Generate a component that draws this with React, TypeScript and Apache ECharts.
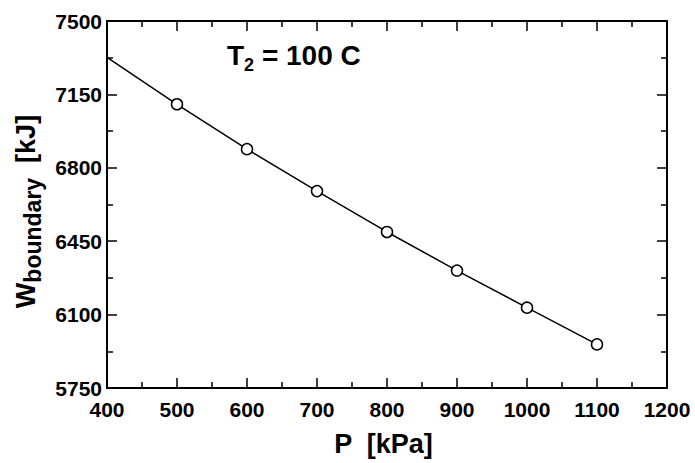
import React, { useEffect, useRef } from "react";
import * as echarts from "echarts";

const pressure = [400, 500, 600, 700, 800, 900, 1000, 1100];
const work = [7327, 7103, 6889, 6689, 6494, 6310, 6133, 5958];
const markerStart = 1; // markers drawn from 500 kPa onward

const xMin = 400;
const xMax = 1200;
const xStep = 100;
const yMin = 5750;
const yMax = 7500;
const yStep = 350;

const FONT = "Liberation Sans, Arial, Helvetica, sans-serif";

export default function App() {
  const ref = useRef<HTMLDivElement>(null);

  useEffect(() => {
    if (!ref.current) return;
    const chart = echarts.init(ref.current, null, { renderer: "svg" });

    const lineData = pressure.map((p, i) => [p, work[i]]);
    const markerData = lineData.slice(markerStart);

    const axisLine = { show: true, lineStyle: { color: "#000", width: 2 } };
    const tickStyle = { color: "#000", width: 1.5 };
    const labelStyle = {
      show: true,
      fontFamily: FONT,
      fontWeight: "bold" as const,
      fontSize: 21,
      color: "#000",
      formatter: (v: number) => String(v),
    };

    const xBase = {
      type: "value" as const,
      min: xMin,
      max: xMax,
      interval: xStep,
      axisLine,
      splitLine: { show: false },
      axisTick: { show: true, inside: true, length: 10, lineStyle: tickStyle },
      minorTick: { show: true, splitNumber: 2, length: 6, lineStyle: tickStyle },
    };
    const yBase = {
      type: "value" as const,
      min: yMin,
      max: yMax,
      interval: yStep,
      axisLine,
      splitLine: { show: false },
      axisTick: { show: true, inside: true, length: 10, lineStyle: tickStyle },
      minorTick: { show: true, splitNumber: 2, length: 6, lineStyle: tickStyle },
    };

    chart.setOption({
      animation: false,
      backgroundColor: "#fff",
      grid: { left: 107, right: 28, top: 21, bottom: 75, containLabel: false },
      xAxis: [
        {
          ...xBase,
          position: "bottom",
          name: "P  [kPa]",
          nameLocation: "middle",
          nameGap: 42,
          nameTextStyle: {
            fontFamily: FONT,
            fontWeight: "bold",
            fontSize: 27,
            color: "#000",
            padding: [0, 7, 0, 0],
          },
          axisLabel: { ...labelStyle, margin: 11 },
        },
        {
          ...xBase,
          position: "top",
          axisLabel: { show: false },
        },
      ],
      yAxis: [
        {
          ...yBase,
          position: "left",
          name: "{m|W}{s|boundary}{m|  [kJ]}",
          nameLocation: "middle",
          nameGap: 61,
          nameTextStyle: {
            color: "#000",
            padding: [0, 14, 0, 0],
            rich: {
              m: {
                fontFamily: FONT,
                fontWeight: "bold",
                fontSize: 27,
                color: "#000",
              },
              s: {
                fontFamily: FONT,
                fontWeight: "bold",
                fontSize: 23,
                color: "#000",
                padding: [14, 0, 0, 0],
              },
            },
          },
          axisLabel: { ...labelStyle, margin: 5 },
        },
        {
          ...yBase,
          position: "right",
          axisLabel: { show: false },
        },
      ],
      graphic: [
        {
          type: "text",
          left: 227,
          top: 41,
          style: {
            text: "{m|T}{s|2}{m| = 100 C}",
            rich: {
              m: {
                fontFamily: FONT,
                fontWeight: "bold",
                fontSize: 28,
                fill: "#000",
                color: "#000",
              },
              s: {
                fontFamily: FONT,
                fontWeight: "bold",
                fontSize: 18,
                fill: "#000",
                color: "#000",
                padding: [20, 0, 0, 0],
              },
            },
          },
        },
      ],
      series: [
        {
          type: "line",
          xAxisIndex: 0,
          yAxisIndex: 0,
          data: lineData,
          showSymbol: false,
          symbol: "none",
          lineStyle: { color: "#000", width: 1.5 },
          z: 2,
        },
        {
          type: "scatter",
          xAxisIndex: 0,
          yAxisIndex: 0,
          data: markerData,
          symbol: "circle",
          symbolSize: 11,
          itemStyle: {
            color: "#fff",
            borderColor: "#000",
            borderWidth: 1.5,
            opacity: 1,
          },
          z: 3,
        },
      ],
    });

    return () => chart.dispose();
  }, []);

  return (
    <div
      ref={ref}
      style={{ position: "absolute", left: 0, top: 0, width: 695, height: 463 }}
    />
  );
}
